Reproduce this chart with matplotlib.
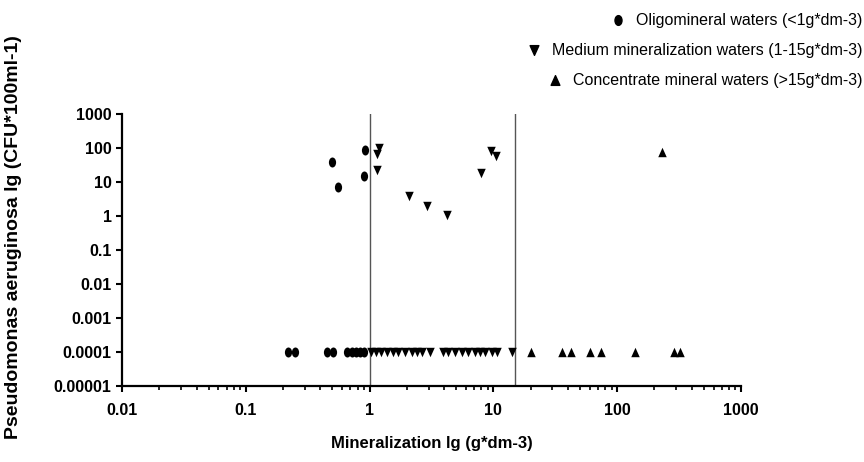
import matplotlib.pyplot as plt
import matplotlib as mpl
import numpy as np
from matplotlib.path import Path
from matplotlib.lines import Line2D
from matplotlib.ticker import LogLocator, FixedLocator, FuncFormatter, NullLocator

mpl.rcParams['font.family'] = ['Liberation Sans', 'DejaVu Sans']

# Oligomineral waters (<1 g/dm3)
oligo_x = [0.5, 0.56, 0.92, 0.9,
           0.22, 0.25, 0.45, 0.51, 0.66, 0.72, 0.78, 0.84, 0.9]
oligo_y = [40, 7, 90, 15,
           1e-4, 1e-4, 1e-4, 1e-4, 1e-4, 1e-4, 1e-4, 1e-4, 1e-4]

# Medium mineralization waters (1-15 g/dm3)
medium_x = [1.2, 1.15, 1.15, 2.1, 2.9, 4.2, 8.0, 9.5, 10.5,
            1.03, 1.13, 1.24, 1.38, 1.55, 1.7, 1.93, 2.2, 2.4, 2.65, 3.1,
            3.9, 4.3, 4.9, 5.6, 6.2, 7.1, 7.8, 8.6, 9.7, 10.7, 14.1]
medium_y = [100, 65, 22, 4, 2, 1.05, 18, 80, 60] + [1e-4] * 22

# Concentrate mineral waters (>15 g/dm3)
conc_x = [230, 20, 36, 42, 60, 74, 140, 290, 320]
conc_y = [75, 1e-4, 1e-4, 1e-4, 1e-4, 1e-4, 1e-4, 1e-4, 1e-4]

labels = ['Oligomineral waters (<1g*dm-3)',
          'Medium mineralization waters (1-15g*dm-3)',
          'Concentrate mineral waters (>15g*dm-3)']
class_limits = [1, 15]

# slightly narrow markers, like the squeezed original
circ = Path.unit_circle()
circ = Path(circ.vertices * [0.72, 1.0], circ.codes)
tri_down = Path([(0, -1), (-0.9, 1), (0.9, 1), (0, -1)], closed=True)
tri_up = Path([(0, 1), (-0.9, -1), (0.9, -1), (0, 1)], closed=True)

fig = plt.figure(figsize=(8.64, 4.62), dpi=100)
ax = fig.add_axes([0.1412, 0.1645, 0.7164, 0.5887])

ax.scatter(oligo_x, oligo_y, marker=circ, s=52, color='black', lw=0, zorder=4)
ax.scatter(medium_x, medium_y, marker=tri_down, s=46, color='black', lw=0, zorder=4)
ax.scatter(conc_x, conc_y, marker=tri_up, s=46, color='black', lw=0, zorder=4)

for lim in class_limits:
    ax.axvline(lim, color='#555555', lw=1.0, zorder=2)

ax.set_xscale('log')
ax.set_yscale('log')
ax.set_xlim(0.01, 1000)
ax.set_ylim(1e-5, 1000)

fmt = FuncFormatter(lambda v, p: np.format_float_positional(v, trim='-'))
ax.xaxis.set_major_locator(FixedLocator([0.01, 0.1, 1, 10, 100, 1000]))
ax.xaxis.set_minor_locator(LogLocator(base=10, subs=np.arange(2, 10)))
ax.xaxis.set_major_formatter(fmt)
ax.yaxis.set_major_locator(FixedLocator([1e-5, 1e-4, 1e-3, 1e-2, 0.1, 1, 10, 100, 1000]))
ax.yaxis.set_minor_locator(NullLocator())
ax.yaxis.set_major_formatter(fmt)

ax.spines['right'].set_visible(False)
ax.spines['top'].set_visible(False)
for s in ['left', 'bottom']:
    ax.spines[s].set_linewidth(1.6)
ax.tick_params(axis='both', which='major', length=4.5, width=1.5, labelsize=11.5, pad=3)
ax.tick_params(axis='x', which='major', pad=8)
ax.tick_params(axis='x', which='minor', length=3, width=1.2)
for lab in ax.get_xticklabels() + ax.get_yticklabels():
    lab.set_fontweight('bold')

ax.set_xlabel('Mineralization lg (g*dm-3)', fontsize=12, fontweight='bold')
ax.xaxis.label.set_va('center')
ax.xaxis.set_label_coords(0.5, -0.21)
ax.set_ylabel('Pseudomonas aeruginosa lg (CFU*100ml-1)', fontsize=14, fontweight='bold')
ax.yaxis.label.set_va('center')
ax.yaxis.set_label_coords(-0.1745, 0.548)

# legend: marker first, text right-aligned at the figure edge
fig.canvas.draw()
renderer = fig.canvas.get_renderer()
leg_y = [1 - 20 / 462, 1 - 50 / 462, 1 - 80 / 462]
leg_markers = [circ, tri_down, tri_up]
for lbl, yy, mk in zip(labels, leg_y, leg_markers):
    t = fig.text(0.998, yy, lbl, ha='right', va='center', fontsize=11.5)
    bb = t.get_window_extent(renderer)
    mx = (bb.x0 - 18) / fig.bbox.width
    fig.add_artist(Line2D([mx], [yy], marker=mk, markersize=7, color='black',
                          lw=0, transform=fig.transFigure))

fig.savefig('out.png', dpi=100)
